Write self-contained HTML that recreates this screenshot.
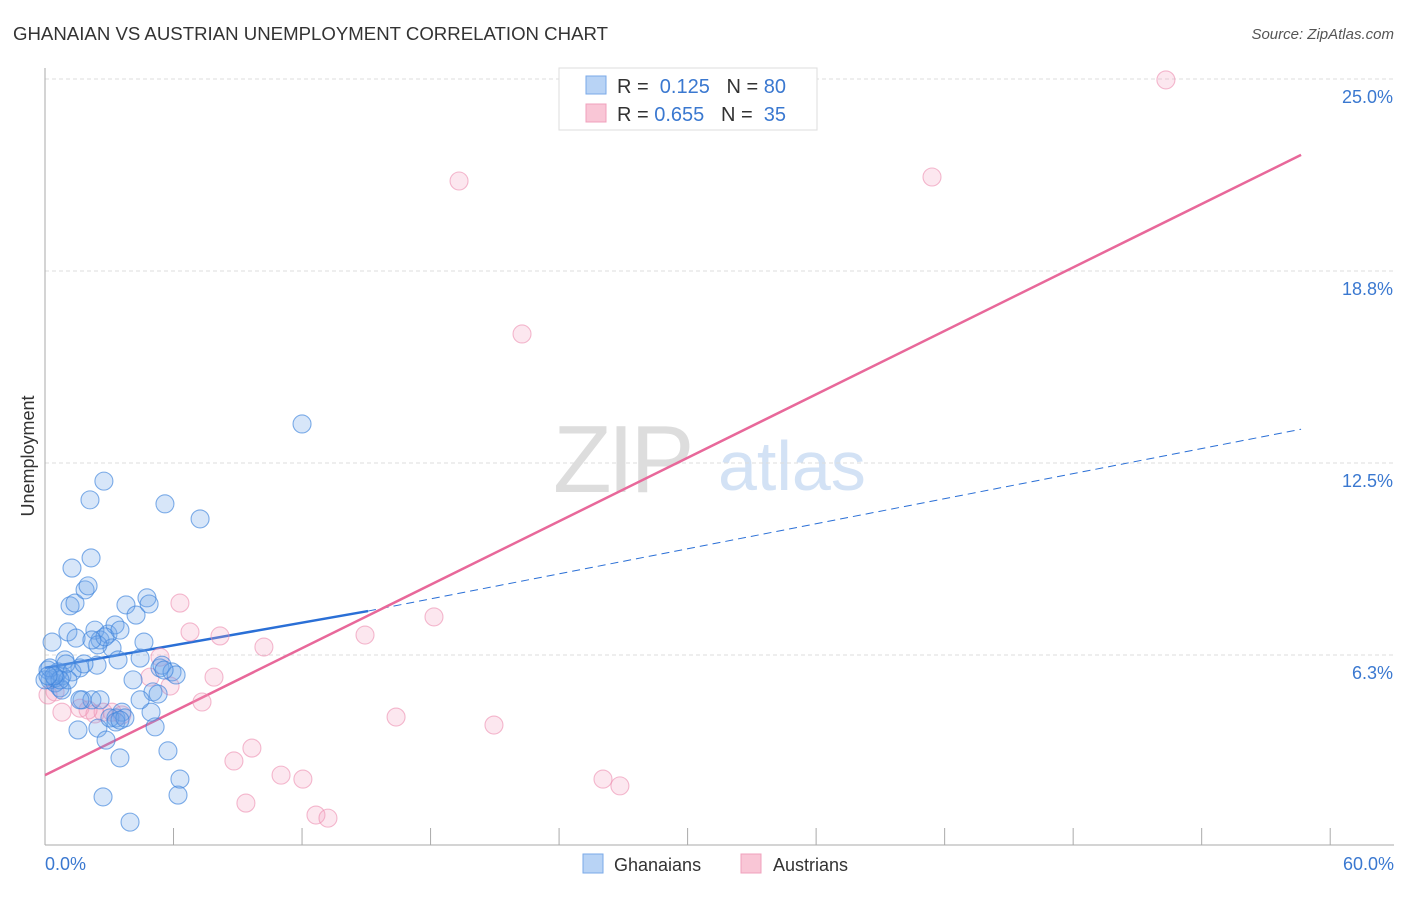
<!DOCTYPE html>
<html><head><meta charset="utf-8"><style>
body{margin:0;background:#fff;font-family:"Liberation Sans",sans-serif}
svg text{font-family:"Liberation Sans",sans-serif}
</style></head><body>
<svg id="chart" width="1406" height="892" viewBox="0 0 1406 892" xmlns="http://www.w3.org/2000/svg">
<text x="13" y="40" font-size="18" fill="#333" textLength="595" lengthAdjust="spacingAndGlyphs">GHANAIAN VS AUSTRIAN UNEMPLOYMENT CORRELATION CHART</text>
<text x="1394" y="39" font-size="15" fill="#555" text-anchor="end" font-style="italic">Source: ZipAtlas.com</text>
<g>
<text x="553" y="492" font-size="96" fill="#ddd" font-family="Liberation Serif" letter-spacing="-4">ZIP</text>
<text x="718" y="490" font-size="70" fill="#d3e2f5">atlas</text>
</g>
<g id="grid"></g>
<g id="axes"></g>
<g id="lines"></g>
<g id="points"></g>
<text transform="translate(34,456) rotate(-90)" font-size="18" fill="#333" text-anchor="middle">Unemployment</text>
<g>
<rect x="559" y="68" width="258" height="62" fill="#fff" stroke="#ddd"/>
<rect x="586" y="76" width="20" height="18" fill="#b8d3f5" stroke="#7aaae8"/>
<rect x="586" y="104" width="20" height="18" fill="#f9c6d6" stroke="#f0a0bc"/>
<text x="617" y="93" font-size="20" fill="#333">R = <tspan fill="#3a78d0">&#160;0.125</tspan>&#160;&#160;&#160;N = <tspan fill="#3a78d0">80</tspan></text>
<text x="617" y="121" font-size="20" fill="#333">R = <tspan fill="#3a78d0">0.655</tspan>&#160;&#160;&#160;N = <tspan fill="#3a78d0">&#160;35</tspan></text>
</g>
<g>
<rect x="583" y="854" width="20" height="19" fill="#b8d3f5" stroke="#7aaae8"/>
<text x="614" y="871" font-size="18" fill="#333">Ghanaians</text>
<rect x="741" y="854" width="20" height="19" fill="#f9c6d6" stroke="#f0a0bc"/>
<text x="773" y="871" font-size="18" fill="#333">Austrians</text>
</g>
</svg>
<script>
const yTicks=[6.25,12.5,18.75,25];
const yTickLabels=["6.3%","12.5%","18.8%","25.0%"];
const xTicks=[0,6,12,18,24,30,36,42,48,54,60];
const xEndLabels=["0.0%","60.0%"];
const ghanaX=[.33,.14,.23,.47,.70,.79,.93,1.07,1.26,1.17,1.40,1.45,1.63,1.54,1.73,1.87,2.01,2.10,2.15,2.19,2.33,2.43,2.47,2.57,2.71,2.75,2.85,2.94,3.13,3.27,3.31,3.41,3.50,3.59,3.78,3.97,4.11,4.25,4.44,4.62,4.76,4.86,4.95,5.04,5.14,5.28,5.37,5.46,5.60,5.74,5.93,6.12,6.21,6.30,7.24,12.00,.47,.61,0,.23,.79,1.63,.98,1.26,2.47,2.80,3.03,3.31,1.82,2.19,3.73,4.44,1.07,.70,.42,.14,2.57,3.50,5.56,3.50];
const ghanaY=[6.67,5.76,5.44,5.34,5.18,5.57,6.09,7.00,9.08,7.85,7.94,6.80,5.83,3.81,4.79,8.37,8.50,11.30,9.41,4.79,7.06,5.92,3.87,6.74,1.63,11.91,3.48,6.93,6.48,7.23,4.20,6.09,2.90,4.39,7.88,.81,5.44,7.55,6.15,6.67,8.11,7.91,4.39,5.05,3.91,4.98,5.83,5.92,11.17,3.13,5.70,5.60,1.69,2.21,10.68,13.77,5.50,5.70,5.44,5.83,5.11,4.79,5.96,5.70,6.58,6.84,4.20,4.07,5.96,6.74,4.20,4.79,5.44,5.44,5.57,5.57,4.79,4.13,5.76,7.06];
const austX=[52.33,41.41,19.33,22.27,18.16,14.94,6.30,6.77,8.17,10.22,5.37,4.90,5.84,7.89,7.33,.47,.79,1.63,2.33,2.71,3.59,16.39,20.96,9.66,8.82,11.02,12.04,26.05,26.84,9.38,12.65,13.21,3.13,.14,2.01];
const austY=[24.97,21.81,21.68,16.70,7.49,6.90,7.94,7.00,6.87,6.51,6.18,5.53,5.24,5.53,4.72,5.05,4.39,4.52,4.33,4.39,4.30,4.23,3.97,3.22,2.80,2.34,2.21,2.21,1.99,1.43,1.04,.94,4.39,4.95,4.46];
const ghanaTrend=[[0,5.83],[15.08,7.68],[58.64,13.6]];
const austTrend=[[0,2.34],[58.64,22.53]];
const NS="http://www.w3.org/2000/svg";
const sx=v=>45+v*21.42, sy=v=>847-v*30.72;
function mk(tag,attrs,parent){const e=document.createElementNS(NS,tag);for(const k in attrs)e.setAttribute(k,attrs[k]);parent.appendChild(e);return e;}
const grid=document.getElementById('grid'),axes=document.getElementById('axes'),lines=document.getElementById('lines'),pts=document.getElementById('points');
yTicks.forEach((t,i)=>{
 const l=mk('line',{x1:45,x2:1394,y1:sy(t),y2:sy(t),stroke:'#ddd','stroke-dasharray':'4,3'},grid);
 
 
 const tx=mk('text',{x:1393,y:sy(t)+24,'font-size':18,fill:'#3a78d0','text-anchor':'end'},grid);
 tx.textContent=yTickLabels[i];
 
 
});
const ya=mk('line',{x1:45,x2:45,y1:68,y2:845,stroke:'#aaa'},axes);


const xa=mk('line',{x1:45,x2:1394,y1:845,y2:845,stroke:'#aaa'},axes);


xTicks.forEach(t=>{
 const l=mk('line',{x1:sx(t),x2:sx(t),y1:828,y2:845,stroke:'#aaa'},axes);
 
 
});
[[0,'start'],[60,'end']].forEach((d,i)=>{
 const tx=mk('text',{x:i?1394:45,y:870,'font-size':18,fill:'#3a78d0','text-anchor':d[1]},axes);
 tx.textContent=xEndLabels[i];
 
 
});
function drawPts(X,Y,fill,stroke,name){
 X.forEach((x,i)=>{
  const c=mk('circle',{cx:sx(x),cy:sy(Y[i]),r:9,fill:fill,stroke:stroke,'stroke-width':1.1},pts);
  
  
 });
}
drawPts(austX,austY,'rgba(244,160,190,0.25)','rgba(236,140,175,0.6)','austrian-point');
drawPts(ghanaX,ghanaY,'rgba(110,165,235,0.28)','rgba(60,130,220,0.65)','ghanaian-point');
const bs=mk('line',{x1:sx(ghanaTrend[0][0]),y1:sy(ghanaTrend[0][1]),x2:sx(ghanaTrend[1][0]),y2:sy(ghanaTrend[1][1]),stroke:'#2a6fd6','stroke-width':2.5},lines);


const bd=mk('line',{x1:sx(ghanaTrend[1][0]),y1:sy(ghanaTrend[1][1]),x2:sx(ghanaTrend[2][0]),y2:sy(ghanaTrend[2][1]),stroke:'#2a6fd6','stroke-width':1,'stroke-dasharray':'8,5'},lines);


const pl=mk('line',{x1:sx(austTrend[0][0]),y1:sy(austTrend[0][1]),x2:sx(austTrend[1][0]),y2:sy(austTrend[1][1]),stroke:'#e8689a','stroke-width':2.5},lines);


</script>
</body></html>
